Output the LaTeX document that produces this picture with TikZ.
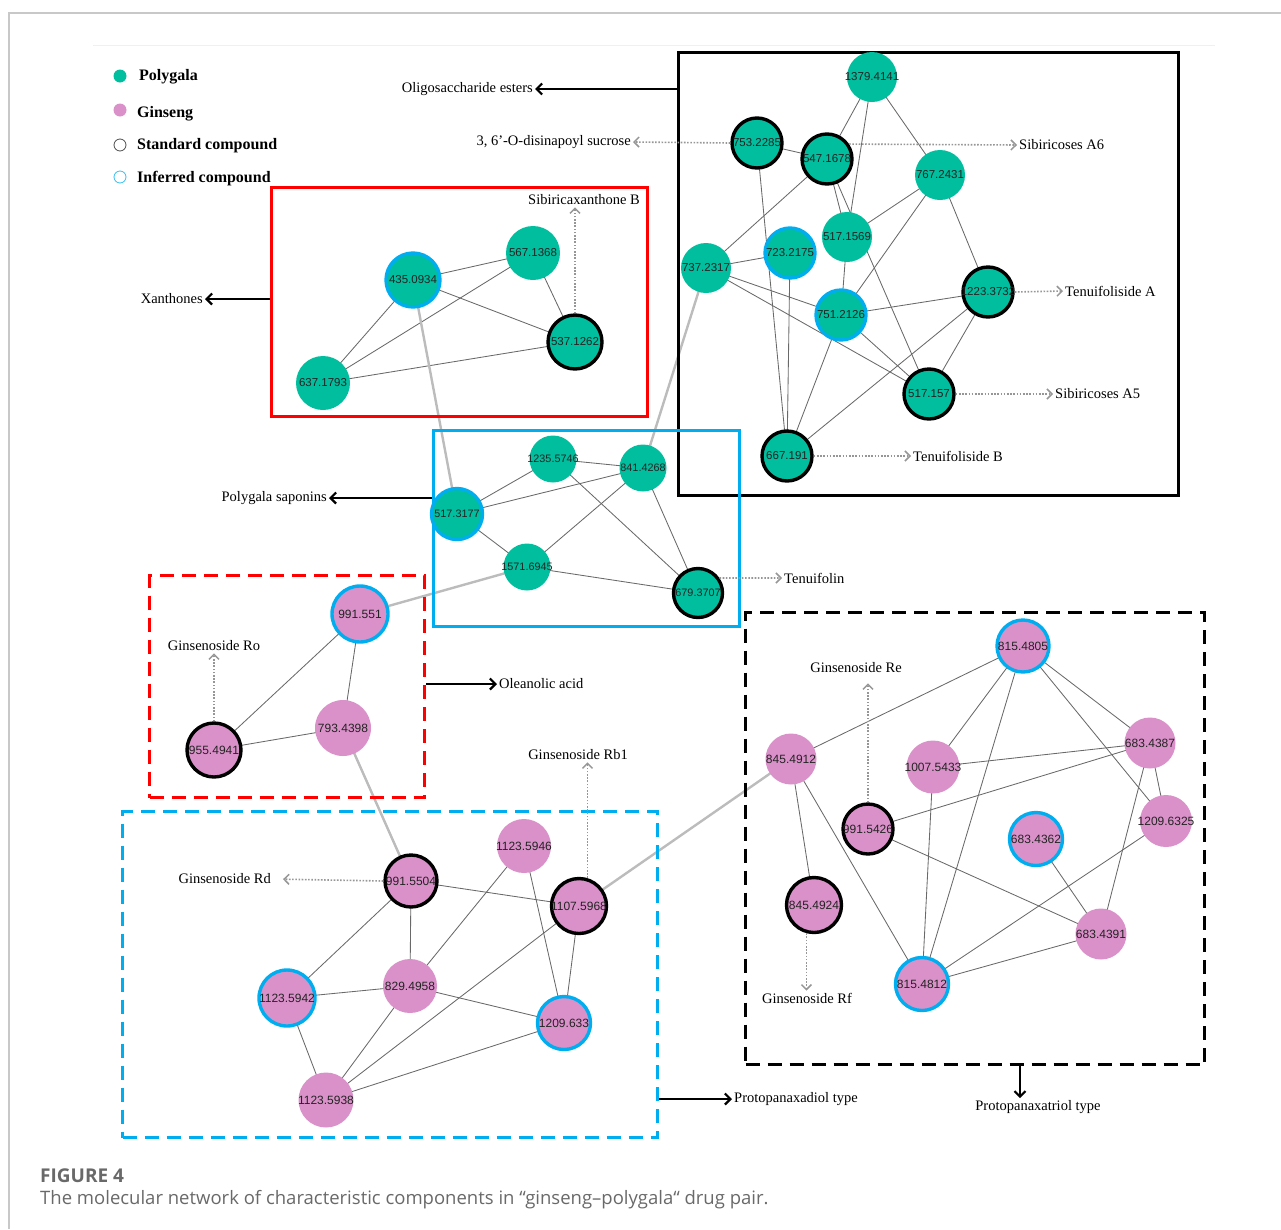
\documentclass[tikz,border=0pt]{standalone}
\usepackage{fontspec}
\setmainfont{Liberation Serif}
\newfontfamily\nfont{Liberation Sans}
\newfontfamily\capfont{Open Sans}
\usetikzlibrary{arrows.meta}
\definecolor{polyg}{RGB}{0,190,158}
\definecolor{ginseng}{RGB}{218,145,201}
\definecolor{infblue}{RGB}{0,174,239}
\definecolor{edgegray}{RGB}{105,105,105}
\definecolor{linkgray}{RGB}{188,188,188}
\definecolor{dotgray}{RGB}{150,150,150}
\definecolor{numtxt}{RGB}{35,35,35}
\definecolor{capgray}{RGB}{105,105,105}
\definecolor{framegray}{RGB}{200,200,200}
\pgfdeclarelayer{bg}
\pgfsetlayers{bg,main}
\newcommand\ctrtext[1]{\makebox[0pt]{#1}}
\begin{document}
\begin{tikzpicture}[x=1pt,y=-1pt,
  gnode/.style={circle, fill=polyg, inner sep=0pt, minimum size=#1, text=numtxt, font=\nfont\fontsize{11.5}{12}\selectfont},
  pnode/.style={circle, fill=ginseng, inner sep=0pt, minimum size=#1, text=numtxt, font=\nfont\fontsize{12}{12}\selectfont},
  stdc/.style={draw=black, line width=3.4pt},
  infc/.style={draw=infblue, line width=3.4pt},
  conn/.style={draw=edgegray, line width=0.85pt},
  xlink/.style={draw=linkgray, line width=2.4pt},
  dotarrow/.style={draw=dotgray, line width=1.6pt, dash pattern=on 1.6pt off 1.6pt, -{Straight Barb[length=5pt,width=10pt,line width=1.5pt]}},
  blkarrow/.style={draw=black, line width=2.3pt, -{Straight Barb[length=5.5pt,width=11pt,line width=2.2pt]}},
  lbl/.style={inner sep=2pt, font=\fontsize{14.5}{16}\selectfont},
  lgtxt/.style={inner sep=2pt, font=\bfseries\fontsize{16}{18}\selectfont},
  solidbox/.style={draw=#1, line width=2.8pt, inner sep=0pt, anchor=north west},
  dashbox/.style={draw=#1, line width=3.4pt, dash pattern=on 14pt off 8pt, inner sep=0pt, anchor=north west}
]
\useasboundingbox (0,0) rectangle (1281,1229);
% frame
\draw[framegray, line width=1.2pt] (9,1229) -- (9,13) -- (1281,13);
\draw[black!6, line width=0.8pt] (93,45) -- (1215,45);

% boxes
\node[solidbox=black, minimum width=500pt, minimum height=443pt] (boxO) at (677,51) {};
\node[solidbox=red, minimum width=376pt, minimum height=229pt] (boxX) at (270,186) {};
\node[solidbox=infblue, minimum width=306pt, minimum height=196pt] (boxS) at (432,429) {};
\node[dashbox=red, minimum width=275pt, minimum height=222pt] (boxOA) at (148,574) {};
\node[dashbox=infblue, minimum width=535pt, minimum height=326pt] (boxPPD) at (121,810) {};
\node[dashbox=black, minimum width=459pt, minimum height=452pt] (boxPPT) at (744,611) {};

% legend
\node[circle, fill=polyg, minimum size=13pt, inner sep=0pt] (lg1) at (120,76) {};
\node[lgtxt, anchor=west] (lt1) at (137,77) {Polygala};
\node[circle, fill=ginseng, minimum size=13pt, inner sep=0pt] (lg2) at (120,110) {};
\node[lgtxt, anchor=west] (lt2) at (135,114) {Ginseng};
\node[circle, draw=black!70, line width=0.8pt, minimum size=12pt, inner sep=0pt] (lg3) at (120,145) {};
\node[lgtxt, anchor=west] (lt3) at (135,146) {Standard compound};
\node[circle, draw=infblue!80, line width=0.8pt, minimum size=12pt, inner sep=0pt] (lg4) at (120,177) {};
\node[lgtxt, anchor=west] (lt4) at (135,179) {Inferred compound};

% Oligosaccharide esters cluster
\node[gnode=50pt] (n1379) at (872,77) {\ctrtext{1379.4141}};
\node[gnode=50pt, stdc] (n753) at (757,143) {\ctrtext{753.2285}};
\node[gnode=50pt, stdc] (n547) at (827,159) {\ctrtext{547.1678}};
\node[gnode=50pt] (n767) at (940,175) {\ctrtext{767.2431}};
\node[gnode=50pt] (n5171569) at (847,237) {\ctrtext{517.1569}};
\node[gnode=50pt] (n737) at (706,268) {\ctrtext{737.2317}};
\node[gnode=50pt, infc] (n723) at (790,253) {\ctrtext{723.2175}};
\node[gnode=50pt, infc] (n751) at (841,315) {\ctrtext{751.2126}};
\node[gnode=50pt, stdc] (n1223) at (988,292) {\ctrtext{1223.3732}};
\node[gnode=50pt, stdc] (n517157) at (929,394) {\ctrtext{517.157}};
\node[gnode=50pt, stdc] (n667) at (787,456) {\ctrtext{667.191}};

% Xanthones
\node[gnode=54pt, infc] (n435) at (413,280) {\ctrtext{435.0934}};
\node[gnode=54pt] (n567) at (533,253) {\ctrtext{567.1368}};
\node[gnode=54pt, stdc] (n537) at (575,342) {\ctrtext{537.1262}};
\node[gnode=54pt] (n637) at (323,383) {\ctrtext{637.1793}};

% Polygala saponins
\node[gnode=47pt, font=\nfont\fontsize{10.8}{12}\selectfont] (n1235) at (553,459) {\ctrtext{1235.5746}};
\node[gnode=47pt, font=\nfont\fontsize{10.8}{12}\selectfont] (n841) at (643,468) {\ctrtext{841.4268}};
\node[gnode=51pt, infc, font=\nfont\fontsize{10.8}{12}\selectfont] (n5173177) at (457,514) {\ctrtext{517.3177}};
\node[gnode=47pt, font=\nfont\fontsize{10.8}{12}\selectfont] (n1571) at (527,567) {\ctrtext{1571.6945}};
\node[gnode=49pt, stdc, font=\nfont\fontsize{10.8}{12}\selectfont] (n679) at (698,593) {\ctrtext{679.3707}};

% Oleanolic acid
\node[pnode=56pt, infc] (n991551) at (360,614) {\ctrtext{991.551}};
\node[pnode=56pt] (n793) at (343,728) {\ctrtext{793.4398}};
\node[pnode=54pt, stdc] (n955) at (214,750) {\ctrtext{955.4941}};

% Protopanaxadiol type
\node[pnode=52pt, stdc] (n9915504) at (411,881) {\ctrtext{991.5504}};
\node[pnode=54pt] (n11235946) at (524,846) {\ctrtext{1123.5946}};
\node[pnode=55pt, stdc] (n1107) at (579,906) {\ctrtext{1107.5968}};
\node[pnode=56pt, infc] (n11235942) at (287,998) {\ctrtext{1123.5942}};
\node[pnode=54pt] (n829) at (410,986) {\ctrtext{829.4958}};
\node[pnode=53pt, infc] (n1209633) at (564,1023) {\ctrtext{1209.633}};
\node[pnode=55pt] (n11235938) at (326,1100) {\ctrtext{1123.5938}};

% Protopanaxatriol type
\node[pnode=52pt, infc] (n8154805) at (1023,646) {\ctrtext{815.4805}};
\node[pnode=51pt] (n8454912) at (791,759) {\ctrtext{845.4912}};
\node[pnode=53pt] (n1007) at (933,767) {\ctrtext{1007.5433}};
\node[pnode=51pt] (n6834387) at (1150,743) {\ctrtext{683.4387}};
\node[pnode=50pt, stdc] (n9915426) at (868,829) {\ctrtext{991.5426}};
\node[pnode=52pt] (n12096325) at (1166,821) {\ctrtext{1209.6325}};
\node[pnode=53pt, infc] (n6834362) at (1036,839) {\ctrtext{683.4362}};
\node[pnode=55pt, stdc] (n8454924) at (814,905) {\ctrtext{845.4924}};
\node[pnode=51pt] (n6834391) at (1101,934) {\ctrtext{683.4391}};
\node[pnode=53pt, infc] (n8154812) at (922,984) {\ctrtext{815.4812}};

% edges
\begin{pgfonlayer}{bg}
\foreach \a/\b in {n1379/n547, n1379/n5171569, n1379/n767, n767/n1223, n753/n547, n753/n667,
  n547/n5171569, n547/n517157, n547/n737, n767/n5171569, n767/n751, n5171569/n751,
  n737/n723, n737/n751, n737/n517157, n723/n667, n751/n1223, n751/n517157, n751/n667,
  n1223/n667, n1223/n517157,
  n435/n567, n435/n537, n435/n637, n567/n637, n567/n537, n637/n537,
  n1235/n841, n1235/n5173177, n1235/n679, n841/n5173177, n841/n1571, n841/n679,
  n5173177/n1571, n1571/n679,
  n991551/n955, n991551/n793, n955/n793,
  n9915504/n1107, n9915504/n11235942, n9915504/n829, n11235946/n829, n11235946/n1209633,
  n1107/n1209633, n1107/n11235938, n11235942/n829, n11235942/n11235938, n829/n1209633,
  n829/n11235938, n1209633/n11235938,
  n8154805/n8454912, n8154805/n1007, n8154805/n8154812, n8154805/n6834387, n8154805/n12096325,
  n8454912/n8454924, n8454912/n8154812, n1007/n6834387, n1007/n8154812, n9915426/n6834387,
  n9915426/n6834391, n6834387/n12096325, n6834387/n6834391, n12096325/n8154812,
  n6834362/n6834391, n6834391/n8154812}
  \draw[conn] (\a.center) -- (\b.center);
\foreach \a/\b in {n435/n5173177, n737/n841, n1571/n991551, n793/n9915504, n1107/n8454912}
  \draw[xlink] (\a.center) -- (\b.center);
\end{pgfonlayer}

% labels
\node[lbl, anchor=east] (olig) at (535,89) {Oligosaccharide esters};
\node[lbl, anchor=east] (disin) at (633,142) {3, 6’-O-disinapoyl sucrose};
\node[lbl, anchor=west] (sibA6) at (1017,145) {Sibiricoses A6};
\node[lbl, anchor=west] (tenA) at (1063,291) {Tenuifoliside A};
\node[lbl, anchor=west] (sibA5) at (1053,394) {Sibiricoses A5};
\node[lbl, anchor=west] (tenB) at (911,456) {Tenuifoliside B};
\node[lbl] (sibx) at (584,200) {Sibiricaxanthone B};
\node[lbl, anchor=east] (xanth) at (205,299) {Xanthones};
\node[lbl, anchor=east] (polysap) at (329,498) {Polygala saponins};
\node[lbl, anchor=west] (tenuifolin) at (782,578) {Tenuifolin};
\node[lbl] (ginRo) at (214,646) {Ginsenoside Ro};
\node[lbl, anchor=west] (olean) at (497,684) {Oleanolic acid};
\node[lbl] (ginRb1) at (578,755) {Ginsenoside Rb1};
\node[lbl, anchor=east] (ginRd) at (273,879) {Ginsenoside Rd};
\node[lbl] (ginRe) at (856,668) {Ginsenoside Re};
\node[lbl] (ginRf) at (807,998) {Ginsenoside Rf};
\node[lbl, anchor=west] (ppd) at (732,1099) {Protopanaxadiol type};
\node[lbl] (ppt) at (1038,1107) {Protopanaxatriol type};

% arrows
\draw[blkarrow] (boxO.west |- olig.east) -- (olig.east);
\draw[blkarrow] (boxX.west |- xanth.east) -- (xanth.east);
\draw[blkarrow] (boxS.west |- polysap.east) -- (polysap.east);
\draw[blkarrow] (boxOA.east |- olean.west) -- (olean.west);
\draw[blkarrow] (boxPPD.east |- ppd.west) -- (ppd.west);
\coordinate (pptfrom) at (1020,1063);
\draw[blkarrow] (pptfrom) -- (pptfrom |- ppt.north);

\draw[dotarrow] (n753.west) -- (disin.east);
\draw[dotarrow] (n547.34) -- (sibA6.west);
\draw[dotarrow] (n1223.east) -- (tenA.west);
\draw[dotarrow] (n517157.east) -- (sibA5.west);
\draw[dotarrow] (n667.east) -- (tenB.west);
\draw[dotarrow] (n537.north) -- (n537.north |- sibx.south);
\draw[dotarrow] (n679.35) -- (tenuifolin.west);
\draw[dotarrow] (n955.north) -- (n955.north |- ginRo.south);
\draw[dotarrow] (n1107.73) -- (n1107.73 |- ginRb1.south);
\draw[dotarrow, shorten >=10pt] (n9915504.west) -- (ginRd.east);
\draw[dotarrow, shorten >=8pt] (n9915426.north) -- (n9915426.north |- ginRe.south);
\draw[dotarrow] (n8454924.255) -- (n8454924.255 |- ginRf.north);

% caption
\node[anchor=west, inner sep=0pt, text=capgray, font=\capfont\bfseries\fontsize{19}{20}\selectfont] (figno) at (40,1176) {FIGURE 4};
\node[anchor=west, inner sep=0pt, text=capgray, font=\capfont\fontsize{18.5}{20}\selectfont] (caption) at (40,1200) {The molecular network of characteristic components in “ginseng–polygala“ drug pair.};
\end{tikzpicture}
\end{document}
